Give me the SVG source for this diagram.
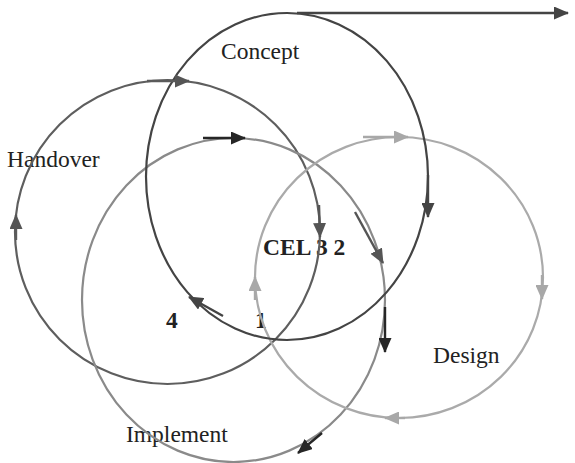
<svg xmlns="http://www.w3.org/2000/svg" width="575" height="463" viewBox="0 0 575 463">
<style>
.lbl{font-family:"Liberation Serif",serif;font-size:23.5px;fill:#222}
.num{font-family:"Liberation Serif",serif;font-size:23.5px;font-weight:bold;fill:#222}
.ring{fill:none;stroke-width:2.2}
.arr{fill:none;stroke-width:2.4}
</style>
<defs>
<marker id="hDark" markerUnits="userSpaceOnUse" markerWidth="15" markerHeight="13" refX="14" refY="6.5" orient="auto"><path d="M0,0 L15,6.5 L0,13 Z" fill="#444"/></marker>
<marker id="hMid" markerUnits="userSpaceOnUse" markerWidth="15" markerHeight="13" refX="14" refY="6.5" orient="auto"><path d="M0,0 L15,6.5 L0,13 Z" fill="#555"/></marker>
<marker id="hBlack" markerUnits="userSpaceOnUse" markerWidth="15" markerHeight="13" refX="14" refY="6.5" orient="auto"><path d="M0,0 L15,6.5 L0,13 Z" fill="#262626"/></marker>
<marker id="hLight" markerUnits="userSpaceOnUse" markerWidth="15" markerHeight="13" refX="14" refY="6.5" orient="auto"><path d="M0,0 L15,6.5 L0,13 Z" fill="#a8a8a8"/></marker>
</defs>
<rect width="575" height="463" fill="#fff"/>
<g id="center-labels">
<text class="num" x="263" y="255">CEL 3 2</text>
<text class="num" x="166" y="328">4</text>
<text class="num" x="255" y="328">1</text>
</g>
<g id="handover">
<text class="lbl" x="7" y="167">Handover</text>
<ellipse class="ring" cx="167.5" cy="232" rx="152.5" ry="152" stroke="#5e5e5e"/>
</g>
<g id="implement">
<text class="lbl" x="126" y="442">Implement</text>
<ellipse class="ring" cx="233.5" cy="300" rx="151.5" ry="162" stroke="#8a8a8a"/>
</g>
<g id="design">
<text class="lbl" x="433" y="363">Design</text>
<ellipse class="ring" cx="399" cy="277.5" rx="144" ry="140.5" stroke="#aaaaaa"/>
</g>
<g id="concept">
<text class="lbl" x="221" y="59">Concept</text>
<ellipse class="ring" cx="287" cy="176.5" rx="141" ry="163.5" stroke="#444"/>
</g>
<g id="connectors">
<path class="arr" d="M297,13 L568,13" stroke="#444" marker-end="url(#hDark)"/>
<path class="arr" d="M147,81 L189,81" stroke="#5a5a5a" marker-end="url(#hMid)"/>
<path class="arr" d="M203,138 L245,138" stroke="#262626" marker-end="url(#hBlack)"/>
<path class="arr" d="M363,137 L408,137" stroke="#a8a8a8" marker-end="url(#hLight)"/>
<path class="arr" d="M428,175 L428,217" stroke="#444" marker-end="url(#hDark)"/>
<path class="arr" d="M319,205 L320,237" stroke="#555" marker-end="url(#hMid)"/>
<path class="arr" d="M355,212 L383,263" stroke="#555" marker-end="url(#hMid)"/>
<path class="arr" d="M385,307 L385,352" stroke="#262626" marker-end="url(#hBlack)"/>
<path class="arr" d="M322,433 L298,453" stroke="#262626" marker-end="url(#hBlack)"/>
<path class="arr" d="M223,316 L189,297" stroke="#444" marker-end="url(#hDark)"/>
<path class="arr" d="M255,300 L255,277" stroke="#a8a8a8" marker-end="url(#hLight)"/>
<path class="arr" d="M542,275 L542,299" stroke="#a8a8a8" marker-end="url(#hLight)"/>
<path class="arr" d="M405,418 L385,418" stroke="#a8a8a8" marker-end="url(#hLight)"/>
<path class="arr" d="M16,240 L16,215" stroke="#5a5a5a" marker-end="url(#hMid)"/>
</g>
</svg>
